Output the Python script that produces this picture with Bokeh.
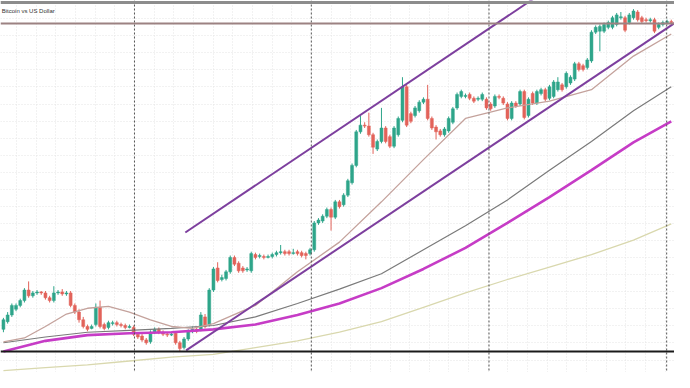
import numpy as np
from bokeh.plotting import figure
from bokeh.models import Range1d, Span, FixedTicker, ColumnDataSource, Label
from bokeh.embed import file_html
from bokeh.resources import INLINE

# ---- data: daily bars, price in thousand USD ----
opens = [25.7,26.5,27.2,27.8,28.2,28.7,29.8,29.2,29.5,29.6,
         29.5,29.0,28.7,29.5,29.6,29.4,29.5,28.2,27.5,26.7,
         26.0,25.8,26.2,28.0,26.2,25.9,26.3,26.4,26.2,26.1,
         25.9,25.9,25.2,25.0,24.6,24.4,25.4,25.7,25.4,25.2,
         25.1,25.3,24.3,23.8,24.7,25.5,25.7,25.7,27.0,26.2,
         29.8,32.1,30.9,31.0,31.7,33.2,32.6,32.1,31.9,31.8,
         33.5,33.3,33.3,33.2,33.3,33.5,33.7,33.8,33.8,33.6,
         33.8,33.7,33.6,33.6,34.0,36.8,37.0,37.5,38.2,37.4,
         39.0,38.7,39.7,41.0,42.8,46.3,47.0,46.9,46.0,44.5,
         45.3,46.7,45.8,44.8,46.0,47.5,51.0,48.2,48.0,48.5,
         49.4,49.7,47.7,46.8,46.4,46.0,46.4,47.3,48.8,50.0,
         50.0,50.2,49.8,49.7,49.7,49.7,49.2,49.0,50.0,49.8,
         49.2,47.7,49.3,49.2,50.5,48.0,50.3,49.3,50.3,50.7,
         49.8,50.0,50.7,51.2,51.0,51.4,51.8,53.4,53.2,53.0,
         53.7,56.7,56.8,56.8,57.2,57.2,57.5,58.2,58.2,57.7,
         58.2,58.8,58.2,58.0,57.9,58.0,57.2,57.5,57.7,57.8]
closes = [26.7,27.2,28.2,28.2,28.7,29.8,29.2,29.5,29.6,29.5,
          29.0,28.7,29.5,29.6,29.4,29.5,28.2,27.5,26.7,26.0,
          25.7,26.0,28.0,26.0,25.8,26.4,26.4,26.2,26.1,25.9,
          26.0,25.2,24.9,24.6,24.3,25.4,25.7,25.4,25.2,25.1,
          25.2,24.3,23.7,24.7,25.5,25.7,25.5,27.2,26.0,29.8,
          32.0,30.8,31.1,31.7,33.2,32.5,31.8,31.8,32.0,33.6,
          33.2,33.4,33.2,33.3,33.5,33.7,33.8,33.6,33.6,33.7,
          33.6,33.4,33.4,34.0,36.8,37.1,37.5,38.2,37.4,39.0,
          38.5,39.7,41.2,42.8,46.3,47.0,46.9,46.0,44.7,45.3,
          46.7,45.3,44.8,46.7,47.7,51.0,47.0,47.4,48.8,49.4,
          49.7,47.7,46.7,46.3,46.0,46.6,47.7,48.7,50.2,50.5,
          50.1,49.8,49.5,49.8,50.2,48.8,48.7,50.0,49.9,49.3,
          47.7,49.3,49.0,50.5,47.8,49.7,49.3,50.5,50.7,49.7,
          51.0,51.5,51.5,50.7,52.4,52.0,53.4,52.8,52.8,53.8,
          56.7,57.2,57.3,57.5,57.7,58.2,58.5,58.3,56.9,58.5,
          58.9,58.0,57.8,57.9,58.0,56.8,57.5,57.7,57.8,57.7]
highs = [26.9,27.5,28.4,28.4,28.9,30.0,30.7,29.7,29.8,29.7,
         29.7,29.2,30.2,29.8,29.9,29.7,29.7,28.4,27.8,27.0,
         26.2,26.2,28.4,28.7,26.4,26.6,26.6,26.6,26.4,26.3,
         26.2,26.1,25.4,25.2,24.8,25.6,25.9,25.9,25.6,25.4,
         25.4,25.5,24.5,24.9,25.7,26.0,25.9,27.5,27.3,30.0,
         32.2,32.7,31.4,31.9,33.4,33.4,32.8,32.3,32.2,33.8,
         33.7,33.6,33.5,33.5,33.7,33.9,34.5,34.0,34.0,34.1,
         34.0,33.9,33.8,34.2,37.0,37.3,37.7,38.4,38.4,39.2,
         39.2,39.9,41.4,43.0,46.5,48.0,47.3,48.3,46.2,45.5,
         48.8,46.9,46.0,46.9,47.9,52.0,51.2,48.4,49.0,49.6,
         49.9,51.2,47.9,47.0,46.6,46.8,47.9,48.9,50.4,50.7,
         50.3,50.4,50.0,50.0,50.4,49.9,49.4,50.2,50.2,50.0,
         49.4,49.5,49.5,50.7,50.7,49.9,50.5,50.7,50.9,50.9,
         51.2,51.7,52.0,51.4,52.6,52.2,53.6,53.6,53.4,54.0,
         56.9,57.4,57.5,57.7,57.9,58.4,58.7,58.8,58.4,58.7,
         59.1,59.0,58.4,58.2,58.2,58.2,57.7,57.9,58.0,58.0]
lows = [25.4,26.3,27.0,27.6,28.0,28.5,29.0,29.0,29.3,29.3,
        28.8,28.5,28.5,29.3,29.2,29.2,28.0,27.3,26.4,25.8,
        25.5,25.7,26.0,25.8,25.6,25.7,26.1,26.0,25.9,25.7,
        25.8,25.0,24.7,24.4,24.1,24.2,25.2,25.2,25.0,24.9,
        25.0,24.1,23.4,23.6,24.5,25.3,25.3,25.5,25.8,26.0,
        29.6,30.6,30.7,30.8,31.5,32.3,31.6,31.6,31.7,31.6,
        33.0,33.1,33.0,33.1,33.1,33.3,33.5,33.4,33.4,33.5,
        33.4,33.2,33.0,33.4,33.8,36.6,36.8,37.3,36.0,37.2,
        38.3,38.5,39.5,40.8,42.6,46.1,46.7,45.8,44.0,44.3,
        45.1,45.1,44.6,44.6,45.8,47.3,46.8,47.2,47.8,48.3,
        49.2,47.5,46.5,45.5,45.8,45.8,46.2,47.1,48.6,49.8,
        49.8,49.6,49.3,49.5,49.5,48.6,48.5,48.8,49.7,49.1,
        47.5,47.5,48.8,49.0,47.6,47.8,49.1,49.1,50.1,49.5,
        49.6,49.8,50.5,50.5,50.8,51.2,51.6,52.6,52.6,52.8,
        53.5,56.5,54.7,56.6,57.0,57.0,57.3,58.0,56.7,57.5,
        58.0,57.8,57.6,57.7,57.7,56.6,57.0,57.3,57.5,57.5]

# moving averages (sampled at bar indices)
ma_fast_idx = [0, 5, 10, 15, 20, 25, 30, 35, 40, 45, 50, 60, 70, 80, 90, 100, 110, 120, 130, 140, 150, 159]
ma_fast = [24.4, 24.8, 26.0, 27.3, 27.9, 28.1, 27.5, 26.7, 26.0, 25.8, 26.3, 28.2, 31.7, 34.8, 39.0, 43.4, 47.7, 48.8, 49.5, 50.7, 54.2, 56.5]
ma_idx = [0, 10, 20, 30, 40, 50, 60, 70, 80, 90, 100, 110, 120, 130, 140, 150, 159]
ma_mid = [24.3, 24.9, 25.4, 25.6, 25.8, 26.1, 27.0, 28.4, 29.9, 31.5, 34.0, 36.5, 39.2, 42.3, 45.3, 48.5, 51.0]
ma_slow = [23.4, 24.5, 25.1, 25.3, 25.4, 25.7, 26.2, 27.2, 28.4, 30.0, 32.0, 34.2, 36.8, 39.5, 42.3, 45.2, 47.4]
ma_long = [21.4, 21.7, 22.0, 22.4, 22.8, 23.1, 23.8, 24.5, 25.4, 26.5, 28.0, 29.5, 30.9, 32.2, 33.5, 35.0, 36.7]

# channel (trend lines) anchors: bar index, price
chan_upper_idx = [43.3, 130.0]
chan_upper_px = [35.8, 61.3]
chan_lower_idx = [43.5, 160.0]
chan_lower_px = [23.5, 57.7]

# horizontal levels and period separators
resistance = 57.6
support = 23.4
separators = [31.2, 73.3, 115.6, 157.9]

bars = list(range(len(opens)))

# ---- figure ----
p = figure(width=674, height=372, output_backend="svg", toolbar_location=None,
           x_range=Range1d(-0.698, 159.767), y_range=Range1d(21.2, 60.0),
           min_border=0, background_fill_color="white", border_fill_color="white")
p.outline_line_color = None
p.xaxis.visible = False
p.yaxis.visible = False
p.xgrid.ticker = FixedTicker(ticks=list(np.arange(31.2 - 4.68 * 7, 165, 4.68)))
p.ygrid.ticker = FixedTicker(ticks=list(np.arange(22.5, 60, 1.78)))
for g in (p.xgrid, p.ygrid):
    g.grid_line_color = "#e4e4e4"
    g.grid_line_dash = "1 2"
    g.grid_line_width = 1

up_c = "#2ea58a"
dn_c = "#e2635a"
colors = [up_c if c >= o else dn_c for o, c in zip(opens, closes)]
src = ColumnDataSource(dict(x=bars, o=opens, c=closes, h=highs, l=lows,
                            top=[max(o, c) for o, c in zip(opens, closes)],
                            bot=[min(o, c) for o, c in zip(opens, closes)],
                            col=colors))

for s in separators:
    p.add_layout(Span(location=s, dimension="height", line_color="#555555",
                      line_dash="2 2", line_width=1))

p.segment(x0="x", y0="l", x1="x", y1="h", color="col", line_width=1, source=src)
p.vbar(x="x", width=0.7, top="top", bottom="bot", fill_color="col",
       line_color="col", line_width=0.5, source=src)

p.line(ma_idx, ma_long, line_color="#d9d8ae", line_width=1.3)
p.line(ma_idx, ma_slow, line_color="#c63cc6", line_width=2.6)
p.line(ma_idx, ma_mid, line_color="#7a7a7a", line_width=1.2)
p.line(ma_fast_idx, ma_fast, line_color="#c4a29c", line_width=1.3)

p.line(chan_upper_idx, chan_upper_px, line_color="#7d3f9e", line_width=2)
p.line(chan_lower_idx, chan_lower_px, line_color="#7d3f9e", line_width=2)

p.add_layout(Span(location=resistance, dimension="width", line_color="#9c8282", line_width=2))
p.add_layout(Span(location=support, dimension="width", line_color="#1a1a1a", line_width=2))
p.add_layout(Span(location=59.8, dimension="width", line_color="#8c8c8c", line_width=3))

p.add_layout(Label(x=-0.4, y=58.9, text="Bitcoin vs US Dollar", text_align="left",
                   text_baseline="middle", text_font="Liberation Sans",
                   text_font_size="6px", text_color="#333333"))

open("out.html", "w").write(file_html(p, INLINE))
